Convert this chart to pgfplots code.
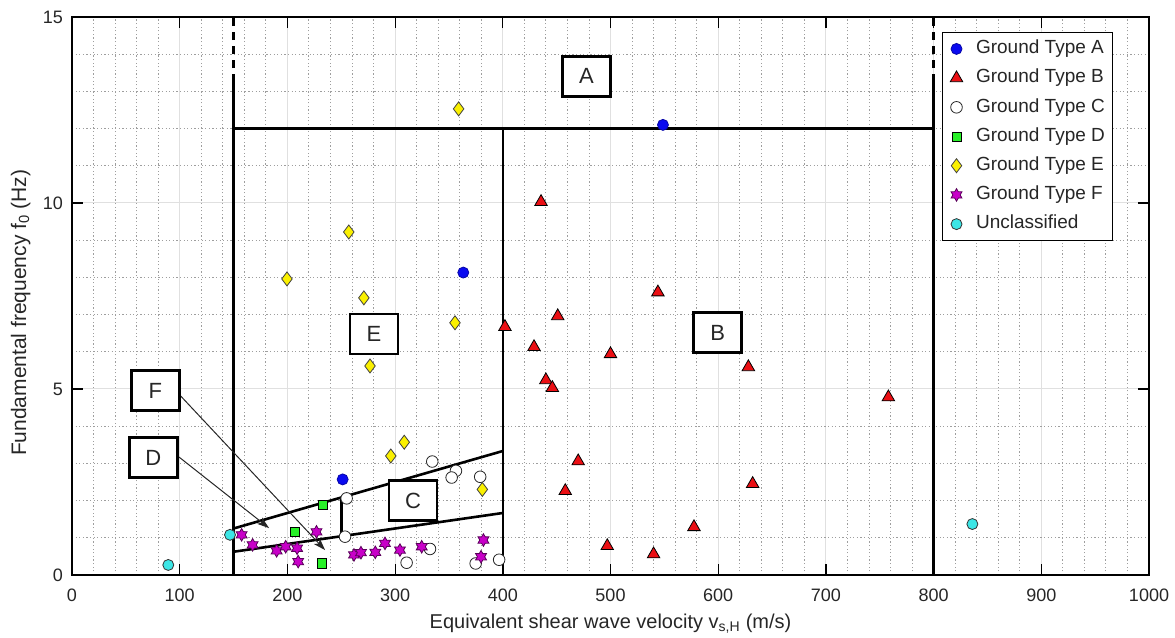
\documentclass[border=0pt]{standalone}
\usepackage{fontspec}
\setmainfont{Liberation Sans}
\usepackage{pgfplots}
\pgfplotsset{compat=1.18}
\usetikzlibrary{arrows.meta}

% six-pointed star marker (filled, outlined)
\pgfdeclareplotmark{hexagram}{%
  \pgfpathmoveto{\pgfqpointpolar{90}{\pgfplotmarksize}}%
  \pgfpathlineto{\pgfqpointpolar{120}{0.577\pgfplotmarksize}}%
  \pgfpathlineto{\pgfqpointpolar{150}{\pgfplotmarksize}}%
  \pgfpathlineto{\pgfqpointpolar{180}{0.577\pgfplotmarksize}}%
  \pgfpathlineto{\pgfqpointpolar{210}{\pgfplotmarksize}}%
  \pgfpathlineto{\pgfqpointpolar{240}{0.577\pgfplotmarksize}}%
  \pgfpathlineto{\pgfqpointpolar{270}{\pgfplotmarksize}}%
  \pgfpathlineto{\pgfqpointpolar{300}{0.577\pgfplotmarksize}}%
  \pgfpathlineto{\pgfqpointpolar{330}{\pgfplotmarksize}}%
  \pgfpathlineto{\pgfqpointpolar{0}{0.577\pgfplotmarksize}}%
  \pgfpathlineto{\pgfqpointpolar{30}{\pgfplotmarksize}}%
  \pgfpathlineto{\pgfqpointpolar{60}{0.577\pgfplotmarksize}}%
  \pgfpathclose
  \pgfusepathqfillstroke
}

\definecolor{gA}{RGB}{10,10,240}
\definecolor{gB}{RGB}{235,15,20}
\definecolor{gD}{RGB}{40,240,40}
\definecolor{gE}{RGB}{250,240,0}
\definecolor{gF}{RGB}{200,0,200}
\definecolor{gU}{RGB}{60,230,230}
\definecolor{txt}{RGB}{38,38,38}

\newcommand{\ticksize}{\fontsize{18bp}{21bp}\selectfont}
\newcommand{\labelsize}{\fontsize{20bp}{24bp}\selectfont}
\newcommand{\ylabelsize}{\fontsize{21bp}{25bp}\selectfont}
\newcommand{\legendsize}{\fontsize{19bp}{22bp}\selectfont}
\newcommand{\boxsize}{\fontsize{22bp}{26bp}\selectfont}

\pgfplotstableread{
v f
548.7 12.10
363.3 8.13
251.3 2.57
}\typeA
\pgfplotstableread{
v f
435.5 10.03
544.0 7.60
451.0 6.96
402.0 6.67
429.0 6.13
500.0 5.94
628.0 5.59
440.0 5.24
446.0 5.03
758.0 4.78
470.0 3.06
458.0 2.26
632.0 2.45
577.5 1.29
497.0 0.78
540.0 0.56
}\typeB
\pgfplotstableread{
v f
334.5 3.05
356.5 2.80
352.5 2.62
379.0 2.64
255.0 2.06
253.5 1.03
332.4 0.70
310.7 0.33
374.8 0.31
396.6 0.41
}\typeC
\pgfplotstableread{
v f
232.7 1.88
207.0 1.16
231.8 0.31
}\typeD
\pgfplotstableread{
v f
359.0 12.53
257.0 9.22
199.6 7.96
271.0 7.45
355.6 6.78
276.7 5.62
308.5 3.57
296.0 3.20
381.0 2.30
}\typeE
\pgfplotstableread{
v f
157.5 1.08
167.7 0.81
190.0 0.65
198.4 0.76
209.0 0.72
210.0 0.36
227.0 1.16
261.8 0.54
268.3 0.60
281.6 0.61
290.6 0.85
304.5 0.67
324.7 0.76
382.0 0.94
379.8 0.49
}\typeF
\pgfplotstableread{
v f
146.7 1.08
89.4 0.27
836.0 1.37
}\unclassified

\begin{document}
\begin{tikzpicture}
\begin{axis}[
  name=ax,
  scale only axis, width=1077bp, height=558bp,
  xmin=0, xmax=1000, ymin=0, ymax=15,
  xtick={0,100,...,1000}, ytick={0,5,10,15},
  minor x tick num=4, minor y tick num=4,
  grid=both,
  major grid style={draw=black!12, line width=1bp},
  minor grid style={draw=black!38, line width=0.9bp, dash pattern=on 1.2bp off 2.4bp},
  tick align=inside, tick pos=both,
  major tick length=10.8bp, minor tick length=0pt,
  major tick style={line width=1.2bp, black},
  axis line style={line width=1.2bp, black},
  /pgf/number format/assume math mode=true,
  /pgf/number format/1000 sep={},
  ticklabel style={font=\ticksize, text=txt, inner sep=0pt},
  xticklabel style={anchor=base, yshift=-26.7bp},
  yticklabel style={anchor=east, xshift=-9bp},
  xlabel={Equivalent shear wave velocity v\textsubscript{s,H} (m/s)},
  ylabel={Fundamental frequency f\textsubscript{0} (Hz)},
  every axis x label/.style={at={(axis description cs:0.5,0)}, anchor=base, yshift=-53.3bp, font=\labelsize, text=txt},
  every axis y label/.style={at={(axis description cs:-0.0427,0.47)}, anchor=base, rotate=90, font=\ylabelsize, text=txt},
  clip mode=individual,
  legend cell align=left,
  legend image code/.code={\draw[mark repeat=2,mark phase=2,#1] plot coordinates {(0bp,0bp) (13bp,0bp) (20bp,0bp)};},
  legend style={
    at={(axis description cs:0.8075,0.9737)}, anchor=north west,
    draw=black, line width=1.2bp, fill=white,
    inner xsep=8bp, inner ysep=7.9bp,
    row sep=11.7bp, font=\legendsize, text=txt,
    nodes={inner sep=0pt, text height=13.5bp, text depth=4bp},
    /tikz/every odd column/.append style={column sep=13.3bp},
  },
]

% zone boundaries
\addplot[forget plot, mark=none, black, line width=2.6bp] coordinates {(150,0) (150,13.25)};
\addplot[forget plot, mark=none, black, line width=2.6bp, dash pattern=on 8bp off 6bp] coordinates {(150,13.25) (150,15)};
\addplot[forget plot, mark=none, black, line width=2.6bp] coordinates {(800,0) (800,13.25)};
\addplot[forget plot, mark=none, black, line width=2.6bp, dash pattern=on 8bp off 6bp] coordinates {(800,13.25) (800,15)};
\addplot[forget plot, mark=none, black, line width=2.6bp] coordinates {(150,12) (800,12)};
\addplot[forget plot, mark=none, black, line width=2.6bp] coordinates {(400,0) (400,12)};
% class C band: f0 = vs/(4*30) and vs/(4*60)
\addplot[forget plot, mark=none, black, line width=2.6bp] coordinates {(150,1.25) (400,3.333)};
\addplot[forget plot, mark=none, black, line width=2.6bp] coordinates {(150,0.625) (400,1.667)};
\addplot[forget plot, mark=none, black, line width=2.6bp] coordinates {(250,1.042) (250,2.083)};

% measured sites
\addplot[only marks, mark=*, mark size=5.5bp, line width=0.8bp, mark options={fill=gA, draw=gA!70!black}] table[x=v,y=f] {\typeA};
\addlegendentry{Ground Type A}
\addplot[only marks, mark=triangle*, mark size=7.2bp, line width=0.8bp, mark options={fill=gB, draw=black}] table[x=v,y=f] {\typeB};
\addlegendentry{Ground Type B}
\addplot[only marks, mark=*, mark size=5.8bp, line width=0.8bp, mark options={fill=white, draw=black!85}] table[x=v,y=f] {\typeC};
\addlegendentry{Ground Type C}
\addplot[only marks, mark=square*, mark size=4.6bp, line width=0.8bp, mark options={fill=gD, draw=black}] table[x=v,y=f] {\typeD};
\addlegendentry{Ground Type D}
\addplot[only marks, mark=diamond*, mark size=7bp, line width=0.8bp, mark options={fill=gE, draw=black!75}] table[x=v,y=f] {\typeE};
\addlegendentry{Ground Type E}
\addplot[only marks, mark=hexagram, mark size=6.3bp, line width=0.8bp, mark options={fill=gF, draw=black!55!gF}] table[x=v,y=f] {\typeF};
\addlegendentry{Ground Type F}
\addplot[only marks, mark=*, mark size=5.5bp, line width=0.8bp, mark options={fill=gU, draw=black!80}] table[x=v,y=f] {\unclassified};
\addlegendentry{Unclassified}

% class labels
\tikzset{zone/.style={draw=black, line width=2.8bp, fill=white, minimum width=48bp, minimum height=40bp, inner sep=0pt, font=\boxsize, text=txt}}
\draw[black!85, line width=1bp, -{Stealth[length=12bp,width=8bp,inset=3bp]}] (axis cs:100,4.84) -- (axis cs:235,0.67);
\draw[black!85, line width=1bp, -{Stealth[length=12bp,width=8bp,inset=3bp]}] (axis cs:99.4,3.17) -- (axis cs:183,1.26);
\node[zone] at (axis cs:477.7,13.41) {A};
\node[zone] at (axis cs:599.6,6.51) {B};
\node[zone] at (axis cs:316.6,2.0) {C};
\node[zone] at (axis cs:75.5,3.16) {D};
\node[zone] at (axis cs:280.4,6.48) {E};
\node[zone] at (axis cs:77.5,4.96) {F};
\end{axis}
\pgfresetboundingbox
\path[use as bounding box] ([shift={(-72bp,-63bp)}]ax.south west) rectangle ([shift={(26bp,17bp)}]ax.north east);
\end{tikzpicture}
\end{document}
